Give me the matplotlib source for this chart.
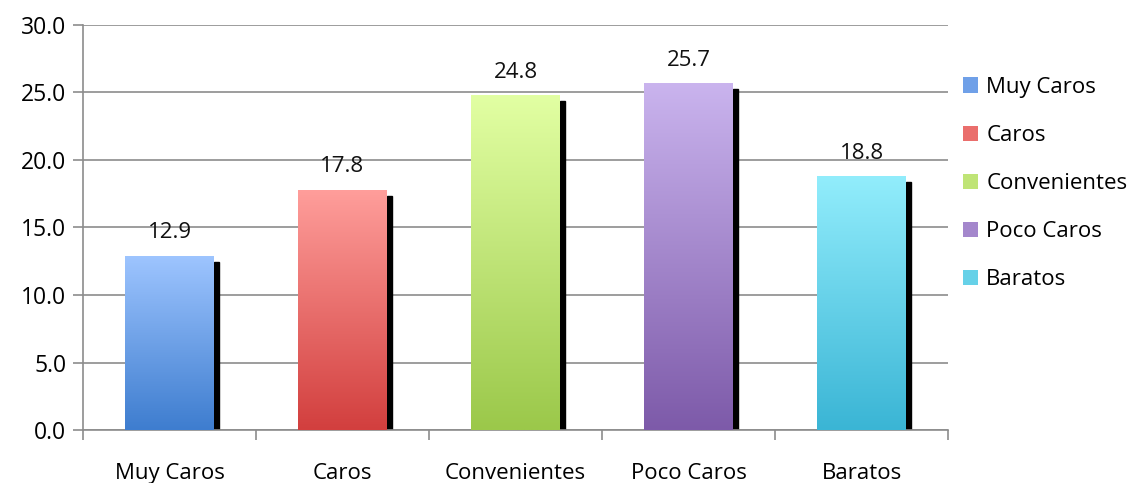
import numpy as np
import matplotlib.pyplot as plt
from matplotlib.colors import LinearSegmentedColormap

categories = ['Muy Caros', 'Caros', 'Convenientes', 'Poco Caros', 'Baratos']
values = [12.9, 17.8, 24.8, 25.7, 18.8]
top_colors = ['#9EC5FF', '#FF9E9B', '#E2FFA3', '#CAB4EE', '#92EDFC']
bottom_colors = ['#3E7DCF', '#D23F3E', '#9BC84A', '#7D5AA9', '#3AB5D5']
mid_colors = ['#6FA0E8', '#EA6E6C', '#BFE476', '#A487CC', '#66D1E8']

plt.rcParams['font.family'] = ['Open Sans', 'DejaVu Sans']

fig = plt.figure(figsize=(11.37, 4.83), dpi=100)
ax = fig.add_axes([83 / 1137, 53 / 483, 865 / 1137, 405 / 483])

x = np.arange(len(categories))
width = 0.51
grad = np.linspace(0, 1, 256).reshape(-1, 1)

for i, (v, ct, cb) in enumerate(zip(values, top_colors, bottom_colors)):
    # shadow on the right side
    ax.add_patch(plt.Rectangle((x[i] + width / 2, 0), 0.03, v - 0.45,
                               color='black', zorder=2))
    bar = ax.bar(x[i], v, width, color='none', zorder=3)[0]
    cmap = LinearSegmentedColormap.from_list(f'g{i}', [cb, ct])
    im = ax.imshow(grad, cmap=cmap, aspect='auto', origin='lower',
                   extent=[x[i] - width / 2, x[i] + width / 2, 0, v], zorder=3)
    im.set_clip_path(bar)
    ax.annotate(f'{v:.1f}', (x[i], v), xytext=(0, 9), textcoords='offset points',
                ha='center', va='bottom', fontsize=16, color='#111111')

ax.set_xlim(-0.5, len(categories) - 0.5)
ax.set_ylim(0, 30)
ax.set_yticks(np.arange(0, 31, 5))
ax.set_yticklabels([f'{t:.1f}' for t in np.arange(0, 31, 5)], fontsize=16.5)
ax.yaxis.grid(True, color='#8C8C8C', linewidth=1.2)
ax.set_axisbelow(True)

ax.set_xticks(np.arange(-0.5, len(categories), 1))
ax.set_xticklabels([])
ax.set_xticks(x, minor=True)
ax.set_xticklabels(categories, minor=True, fontsize=16)
ax.tick_params(axis='x', which='minor', length=0, pad=24)
ax.tick_params(axis='both', which='major', length=7, color='#8C8C8C', width=1.2)
ax.tick_params(axis='y', pad=5)

for s in ['top', 'right']:
    ax.spines[s].set_visible(False)
for s in ['left', 'bottom']:
    ax.spines[s].set_color('#8C8C8C')
    ax.spines[s].set_linewidth(1.2)

handles = []
for mc in mid_colors:
    handles.append(plt.Rectangle((0, 0), 1, 1, facecolor=mc, edgecolor='none'))
ax.legend(handles, categories, loc='center left', bbox_to_anchor=(1.007, 0.608),
          frameon=False, fontsize=16, handlelength=0.7, handleheight=0.7,
          handletextpad=0.35, labelspacing=1.22, borderaxespad=0)

fig.savefig('out.png', dpi=100)
